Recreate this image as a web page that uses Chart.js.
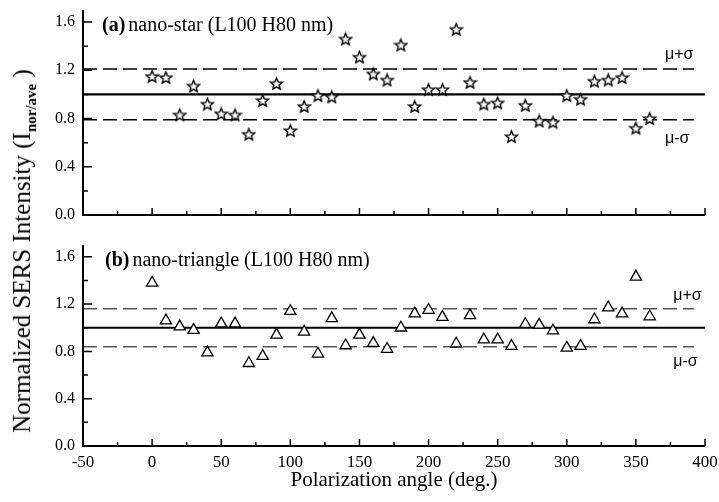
<!DOCTYPE html>
<html lang="en">
<head>
<meta charset="UTF-8">
<title>Normalized SERS intensity vs polarization angle</title>
<script src="https://cdn.jsdelivr.net/npm/chart.js"></script>
<style>
  body { margin: 0; background: #fff; }
  #wrap { position: relative; width: 719px; height: 502px; overflow: hidden; }
  #topBox { position: absolute; left: 0; top: 0; }
  #botBox { position: absolute; left: 0; top: 232px; }
  #ytitle {
    position: absolute; left: 24px; top: 251px;
    transform: translate(-50%, -50%) rotate(-90deg);
    white-space: nowrap;
    font-family: 'Liberation Serif', serif;
    font-size: 25px; color: #000;
  }
  #ytitle sub { font-size: 15px; font-weight: bold; }
</style>
</head>
<body>
<div id="wrap">
  <canvas id="topBox" width="719" height="232"></canvas>
  <canvas id="botBox" width="719" height="270"></canvas>
  <div id="ytitle">Normalized SERS Intensity (I<sub>nor/ave</sub>&nbsp;)</div>
</div>
<script>
// polarization angles (deg.)
const angles = [0, 10, 20, 30, 40, 50, 60, 70, 80, 90, 100, 110, 120, 130, 140, 150, 160, 170, 180,
                190, 200, 210, 220, 230, 240, 250, 260, 270, 280, 290, 300, 310, 320, 330, 340, 350, 360];

// (a) nano-star
const starIntensity = [1.15, 1.14, 0.83, 1.07, 0.92, 0.84, 0.83, 0.67, 0.95, 1.09, 0.70, 0.90, 0.99, 0.98,
                       1.46, 1.31, 1.17, 1.12, 1.41, 0.90, 1.04, 1.04, 1.54, 1.10, 0.92, 0.93, 0.65, 0.91,
                       0.78, 0.77, 0.99, 0.96, 1.11, 1.12, 1.14, 0.72, 0.80];
const starBand = [0.79, 1.21];

// (b) nano-triangle
const triangleIntensity = [1.38, 1.06, 1.01, 0.98, 0.79, 1.035, 1.035, 0.70, 0.76, 0.94, 1.14, 0.965, 0.78, 1.08,
                           0.85, 0.94, 0.87, 0.82, 1.00, 1.12, 1.15, 1.09, 0.865, 1.105, 0.90, 0.90, 0.845, 1.03,
                           1.025, 0.975, 0.83, 0.845, 1.07, 1.17, 1.12, 1.43, 1.095];
const triangleBand = [0.84, 1.16];

const meanValue = 1.0;
const meanSpan = [-50, 400];
const bandSpan = [-50, 392];

const xTicks = [-50, 0, 50, 100, 150, 200, 250, 300, 350, 400];
const yTicks = [0.0, 0.4, 0.8, 1.2, 1.6];

// outlined five-point star used as point style
const starImg = (() => {
  const c = document.createElement('canvas');
  c.width = 15; c.height = 15;
  const g = c.getContext('2d');
  g.beginPath();
  for (let i = 0; i < 10; i++) {
    const r = i % 2 ? 2.8 : 6.2;
    const a = -Math.PI / 2 + i * Math.PI / 5;
    const px = 7.5 + r * Math.cos(a), py = 8.1 + r * Math.sin(a);
    if (i) g.lineTo(px, py); else g.moveTo(px, py);
  }
  g.closePath();
  g.fillStyle = '#fff';
  g.fill();
  g.lineWidth = 1.4;
  g.strokeStyle = '#000';
  g.stroke();
  return c;
})();

// L-shaped axes with inward ticks, panel label, mu labels
const framePlugin = {
  id: 'frame',
  afterDraw(chart, args, opts) {
    const { ctx, chartArea: a, scales: { x, y } } = chart;
    ctx.save();
    ctx.strokeStyle = '#000';
    ctx.lineWidth = 2;
    ctx.beginPath();
    ctx.moveTo(a.left, a.top);
    ctx.lineTo(a.left, a.bottom);
    ctx.lineTo(a.right, a.bottom);
    ctx.stroke();

    ctx.lineWidth = 1.5;
    ctx.beginPath();
    xTicks.forEach((v, i) => {
      const px = x.getPixelForValue(v);
      ctx.moveTo(px, a.bottom);
      ctx.lineTo(px, a.bottom - 7);
      if (i < xTicks.length - 1) {
        const pm = x.getPixelForValue(v + 25);
        ctx.moveTo(pm, a.bottom);
        ctx.lineTo(pm, a.bottom - 4);
      }
    });
    yTicks.forEach(v => {
      const py = y.getPixelForValue(v);
      ctx.moveTo(a.left, py);
      ctx.lineTo(a.left + 9, py);
      if (v + 0.2 < y.max) {
        const pm = y.getPixelForValue(v + 0.2);
        ctx.moveTo(a.left, pm);
        ctx.lineTo(a.left + 5, pm);
      }
    });
    ctx.stroke();

    // panel label: bold letter + normal text
    ctx.fillStyle = '#000';
    ctx.textBaseline = 'alphabetic';
    ctx.textAlign = 'left';
    let tx = a.left + opts.labelDx;
    const ty = a.top + 21;
    ctx.font = 'bold 20px "Liberation Serif"';
    ctx.fillText(opts.tag, tx, ty);
    tx += ctx.measureText(opts.tag).width + 3;
    ctx.font = '20px "Liberation Serif"';
    ctx.fillText(opts.text, tx, ty);

    // mu +/- sigma labels
    ctx.font = '16px "Liberation Sans"';
    ctx.textBaseline = 'middle';
    const mx = x.getPixelForValue(opts.muX);
    ctx.fillText('\u03bc+\u03c3', mx, y.getPixelForValue(opts.band[1]) - opts.muUp);
    ctx.fillText('\u03bc-\u03c3', mx, y.getPixelForValue(opts.band[0]) + opts.muDown);

    if (opts.xTitle) {
      ctx.font = '21px "Liberation Serif"';
      ctx.textAlign = 'center';
      ctx.fillText(opts.xTitle, (a.left + a.right) / 2, 248);
    }
    ctx.restore();
  }
};

const noPad = s => { s.paddingTop = 0; s.paddingBottom = 0; s.paddingLeft = 0; s.paddingRight = 0; };

function makePanel(id, values, pointCfg, band, padTop, xHeight, showX, frame) {
  const lineAt = (span, v) => span.map(sx => ({ x: sx, y: v }));
  return new Chart(document.getElementById(id), {
    type: 'scatter',
    data: {
      datasets: [
        Object.assign({
          data: angles.map((ang, i) => ({ x: ang, y: values[i] })),
          borderColor: '#000',
          backgroundColor: '#fff',
          borderWidth: 1.3
        }, pointCfg),
        { data: lineAt(meanSpan, meanValue), showLine: true, pointRadius: 0, borderColor: '#000', borderWidth: 2.2 },
        { data: lineAt(bandSpan, band[1]), showLine: true, pointRadius: 0, borderColor: frame.dashColor, borderWidth: 1.5, borderDash: [14, 6] },
        { data: lineAt(bandSpan, band[0]), showLine: true, pointRadius: 0, borderColor: frame.dashColor, borderWidth: 1.5, borderDash: [14, 6] }
      ]
    },
    options: {
      responsive: false,
      animation: false,
      devicePixelRatio: 1,
      layout: { autoPadding: false, padding: { left: 0, right: 14, top: padTop, bottom: 0 } },
      plugins: { legend: { display: false }, tooltip: { enabled: false }, frame: frame },
      scales: {
        x: {
          type: 'linear', min: -50, max: 400,
          afterBuildTicks: s => { s.ticks = xTicks.map(v => ({ value: v })); },
          afterFit: s => { s.height = xHeight; noPad(s); },
          grid: { display: false, drawTicks: false },
          border: { display: false },
          ticks: { display: showX, color: '#000', padding: 6, font: { family: 'Liberation Serif', size: 17 } }
        },
        y: {
          min: 0, max: 1.7,
          afterBuildTicks: s => { s.ticks = yTicks.map(v => ({ value: v })); },
          afterFit: s => { s.width = 83; noPad(s); },
          grid: { display: false, drawTicks: false },
          border: { display: false },
          ticks: { color: '#000', padding: 8, callback: v => v.toFixed(1), font: { family: 'Liberation Serif', size: 16 } }
        }
      }
    },
    plugins: [framePlugin]
  });
}

makePanel('topBox', starIntensity, { pointStyle: starImg, pointRadius: 7 }, starBand, 10, 17, false,
  { tag: '(a)', text: 'nano-star (L100 H80 nm)', labelDx: 19, band: starBand, muX: 371, muUp: 14, muDown: 19, dashColor: '#000' });

makePanel('botBox', triangleIntensity, { pointStyle: 'triangle', pointRadius: 6.5 }, triangleBand, 13, 56, true,
  { tag: '(b)', text: 'nano-triangle (L100 H80 nm)', labelDx: 22, band: triangleBand, muX: 377, muUp: 13, muDown: 15, dashColor: '#555', xTitle: 'Polarization angle (deg.)' });
</script>
</body>
</html>
